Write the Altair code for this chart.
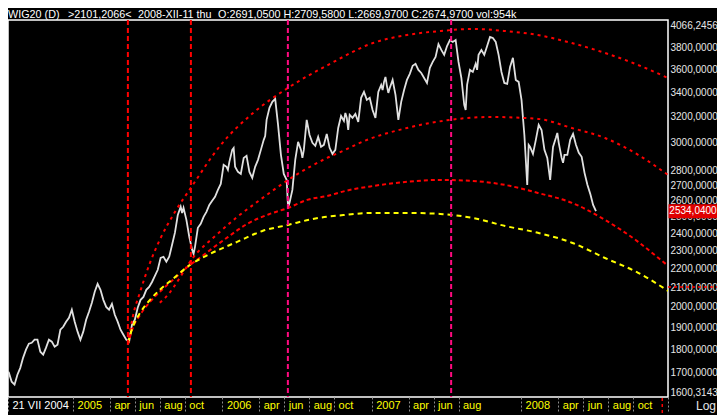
import altair as alt
import pandas as pd

# ---------------- data ----------------
week_start = "2004-07-21"
# weekly readings of the WIG20 line (one value every 7 days from week_start)
close = [
    1704, 1700, 1662, 1650, 1691, 1720, 1764, 1799, 1826, 1830,
    1844, 1844, 1790, 1777, 1808, 1844, 1835, 1812, 1821, 1890,
    1904, 1928, 1947, 1986, 1928, 1881, 1844, 1881, 1937, 1976,
    2020, 2076, 2117, 2086, 2035, 2000, 1986, 2015, 1961, 1928,
    1890, 1867, 1844, 1835, 1913, 1937, 1996, 2035, 2050, 2086,
    2101, 2127, 2160, 2192, 2258, 2264, 2236, 2264, 2332, 2403,
    2511, 2562, 2555, 2480, 2379, 2303, 2320, 2432, 2456, 2499,
    2530, 2574, 2600, 2626, 2671, 2711, 2842, 2828, 2863, 2949,
    2828, 2793, 2779, 2891, 2906, 2793, 2752, 2828, 2877, 2949,
    3023, 3176, 3272, 3321, 3346, 3137, 2913, 2779, 2738, 2587,
    2671, 2877, 3008, 2949, 2949, 3176, 3060, 3001, 2979, 3045,
    2971, 2986, 3068, 2964, 2920, 2949, 3113, 3207, 3168, 3192,
    3216, 3192, 3223, 3160, 3354, 3404, 3337, 3354, 3255, 3192,
    3404, 3463, 3489, 3455, 3437, 3506, 3379, 3176, 3321, 3420,
    3506, 3559, 3631, 3649, 3594, 3567, 3523, 3480, 3612, 3666,
    3712, 3831, 3776, 3730, 3813, 3870, 3851, 3870, 3666, 3523,
    3296, 3463, 3594, 3576, 3649, 3730, 3776, 3730, 3813, 3899,
    3889, 3851, 3730, 3576, 3480, 3472, 3621, 3703, 3506, 3489,
    3337, 3060, 2704, 2971, 2920, 3023, 3137, 3098, 2949, 2891,
    2738, 2971, 3038, 3001, 2891, 2913, 2913, 3023, 3068, 2986,
    2928, 2899, 2786, 2705, 2645, 2574, 2534.04,
]
# extra mid-week readings where the line spikes (position in weeks from week_start)
extra_weeks = [61.5, 65.5, 77.5, 79.5, 90.5, 98.5, 103.5, 118.5, 119.5, 131.5,
               132.5, 133.5, 160.5, 164.5, 182.5, 192.5, 194.5]
extra_vals = [2523, 2280, 2807, 2963, 3052, 2561, 2891, 3231, 3098, 3420,
              3532, 3395, 3255, 3594, 2986, 3075, 2856]

arc_a_dates = ["2005-05-15", "2005-05-27", "2005-06-14", "2005-07-08", "2005-08-01",
               "2005-09-07", "2005-10-19", "2005-12-26", "2006-03-17", "2006-06-10",
               "2006-09-21", "2007-01-04", "2007-03-28", "2007-06-17", "2007-09-05",
               "2007-11-23", "2008-02-11", "2008-05-04", "2008-07-24", "2008-10-13",
               "2008-12-25"]
arc_a_vals = [1821, 1952, 2076, 2230, 2361, 2529, 2697, 2978, 3231, 3437,
              3648, 3841, 3918, 3957, 3977, 3957, 3918, 3841, 3748, 3638, 3523]

arc_b_dates = ["2005-08-01", "2005-08-14", "2005-10-31", "2005-12-09", "2006-02-06",
               "2006-04-03", "2006-06-22", "2006-09-14", "2006-10-28", "2006-12-03",
               "2007-03-28", "2007-07-11", "2007-10-17", "2008-02-11", "2008-05-04",
               "2008-07-24", "2008-10-13", "2008-12-25"]
arc_b_vals = [2020, 2045, 2286, 2372, 2498, 2606, 2758, 2891, 2949, 3001,
              3113, 3176, 3199, 3184, 3113, 3037, 2913, 2772]

arc_c_dates = ["2005-05-15", "2005-05-27", "2005-06-14", "2005-07-08", "2005-08-01",
               "2005-09-02", "2005-10-14", "2005-11-07", "2005-12-09", "2006-01-15",
               "2006-03-02", "2006-04-27", "2006-06-10", "2006-07-27", "2006-09-14",
               "2006-10-28", "2007-01-04", "2007-03-28", "2007-06-17", "2007-09-05",
               "2007-11-23", "2008-02-11", "2008-05-04", "2008-07-24", "2008-10-13",
               "2008-12-01", "2008-12-25"]
arc_c_vals = [1821, 1899, 1961, 2025, 2076, 2138, 2219, 2258, 2314, 2378,
              2455, 2517, 2554, 2606, 2631, 2664, 2697, 2725, 2738, 2731,
              2704, 2651, 2587, 2480, 2349, 2258, 2214]

arc_y_dates = ["2005-05-15", "2005-05-27", "2005-06-14", "2005-07-08", "2005-08-01",
               "2005-09-02", "2005-10-14", "2005-12-02", "2006-02-06", "2006-04-10",
               "2006-06-10", "2006-08-10", "2006-10-28", "2007-01-04", "2007-03-28",
               "2007-06-17", "2007-09-05", "2007-11-23", "2008-02-11", "2008-05-04",
               "2008-07-24", "2008-10-13", "2008-12-25"]
arc_y_vals = [1830, 1903, 1971, 2035, 2086, 2143, 2219, 2280, 2349, 2414,
              2449, 2486, 2511, 2523, 2523, 2517, 2492, 2443, 2402, 2344,
              2257, 2176, 2081]

vline_dates = ["2005-05-15", "2005-10-16", "2006-06-10", "2007-07-14"]
vline_colors = ["#ff0000", "#ff0000", "#ff0a7f", "#ff0a7f"]

y_ticks = [1600.3143, 1700, 1800, 1900, 2000, 2100, 2200, 2300, 2400, 2500,
           2600, 2700, 2800, 3000, 3200, 3400, 3600, 3800, 4066.2456]
x_tick_dates = ["2004-07-26", "2005-01-01", "2005-04-01", "2005-06-01", "2005-08-01",
                "2005-10-01", "2006-01-01", "2006-04-01", "2006-06-01", "2006-08-01",
                "2006-10-01", "2007-01-01", "2007-04-01", "2007-06-01", "2007-08-01",
                "2008-01-01", "2008-04-01", "2008-06-01", "2008-08-01", "2008-10-01",
                "2008-12-25"]
x_domain = ["2004-07-26", "2008-12-25"]
last_close = 2534.04
last_label = "2534,0400"
cursor_value = 2101.2066
cursor_date = "2008-12-11"
header_parts = ["WIG20 (D)", ">2101,2066<", "2008-XII-11 thu",
                "O:2691,0500 H:2709,5800 L:2669,9700 C:2674,9700 vol:954k"]

# ---------------- chart ----------------
W, H = 660, 377
RIGHT = 49
FONT = "Liberation Sans"


def dt(s):
    y, m, d = map(int, s.split("-"))
    return alt.DateTime(year=y, month=m, date=d, utc=True)


weeks = list(range(len(close))) + extra_weeks
vals = close + extra_vals
t0 = pd.Timestamp(week_start)
stamps = [t0 + pd.to_timedelta(w * 7, unit="D") for w in weeks]
price_df = pd.DataFrame({"t": stamps, "price": vals}).sort_values("t")
price_df["date"] = price_df["t"].dt.strftime("%Y-%m-%dT%H:%M:%SZ")
price_df = price_df[["date", "price"]]

xs = alt.Scale(type="utc", domain=[dt(s) for s in x_domain], nice=False)
ys = alt.Scale(type="log", domain=[y_ticks[0], y_ticks[-1]], nice=False)

label_expr = ("utcyear(datum.value) < 2005 ? '21 VII 2004' : "
              "utcmonth(datum.value) == 11 ? '' : "
              "utcmonth(datum.value) == 0 ? utcFormat(datum.value, '%Y') : "
              "lower(utcFormat(datum.value, '%b'))")

xaxis = alt.Axis(
    values=[dt(s) for s in x_tick_dates], labelExpr=label_expr, title=None,
    domain=False, grid=False, tickColor="#8c8c8c", tickDash=[2, 2], tickSize=14,
    tickWidth=1, labelAlign="left", labelOffset=4, labelPadding=-12,
    labelBaseline="top", labelFont=FONT, labelFontSize=11,
    labelColor={"condition": {"test": "utcyear(datum.value) < 2005", "value": "#ffffff"},
                "value": "#ffff00"},
    labelOverlap=False, labelBound=False, labelFlush=False, zindex=0,
)
yaxis = alt.Axis(
    orient="right", values=y_ticks,
    labelExpr="replace(format(datum.value, '.4f'), '.', ',')", title=None,
    domain=False, ticks=False, grid=False, labelPadding=2, labelColor="#e6e6e6",
    labelFont=FONT, labelFontSize=10, labelFlush=True, labelOverlap=False, zindex=0,
)


def X(f="date"):
    return alt.X(f"{f}:T", scale=xs, axis=xaxis)


def Y(f):
    return alt.Y(f"{f}:Q", scale=ys, axis=yaxis)


price = alt.Chart(price_df).mark_line(color="#e0e0e0", strokeWidth=1.8, clip=True).encode(
    x=X(), y=Y("price")
)


def arc(dts, vals, color, dash):
    df = pd.DataFrame({"date": dts, "price": vals})
    return alt.Chart(df).mark_line(
        color=color, strokeDash=dash, strokeWidth=2, interpolate="monotone", clip=True
    ).encode(x=X(), y=Y("price"))


arc_a = arc(arc_a_dates, arc_a_vals, "#ff0000", [3, 4])
arc_b = arc(arc_b_dates, arc_b_vals, "#ff0000", [3, 4])
arc_c = arc(arc_c_dates, arc_c_vals, "#ff0000", [4, 3])
arc_y = arc(arc_y_dates, arc_y_vals, "#ffff00", [5, 4])

vdf = pd.DataFrame({"date": vline_dates, "color": vline_colors})
vlines = alt.Chart(vdf).mark_rule(strokeWidth=2, strokeDash=[5, 3]).encode(
    x=X(), color=alt.Color("color:N", scale=None)
)

cur_h = alt.Chart(pd.DataFrame({"v": [cursor_value]})).mark_rule(
    color="#ff0000", strokeDash=[3, 3], strokeWidth=1.5
).encode(y=Y("v"), x=alt.value(W), x2=alt.value(W + RIGHT))

cur_v = alt.Chart(pd.DataFrame({"date": [cursor_date]})).mark_rule(
    color="#ff0000", strokeDash=[3, 3], strokeWidth=1.5
).encode(x=X(), y=alt.value(H + 1), y2=alt.value(H + 18))

box_df = pd.DataFrame({"v": [last_close], "t": [last_label]})
box = alt.Chart(box_df).mark_point(
    shape="M-1.75,-0.5L1.75,-0.5L1.75,0.5L-1.75,0.5Z", size=784, filled=True,
    color="#e00000", opacity=1, strokeWidth=0,
).encode(x=alt.value(W + 25), y=Y("v"))
box_txt = alt.Chart(box_df).mark_text(
    color="white", font=FONT, fontSize=10, align="center", baseline="middle"
).encode(x=alt.value(W + 25), y=Y("v"), text="t:N")

head_df = pd.DataFrame({"t": header_parts, "px": [0, 60, 130, 210]})
head = alt.Chart(head_df).mark_text(
    align="left", baseline="alphabetic", color="white", font=FONT, fontSize=10.8
).encode(x=alt.X("px:Q", scale=None), y=alt.value(-2), text="t:N")

log_txt = alt.Chart(pd.DataFrame({"t": ["Log"]})).mark_text(
    align="right", baseline="middle", color="#e6e6e6", font=FONT, fontSize=12
).encode(x=alt.value(W + RIGHT - 1), y=alt.value(H + 9), text="t:N")

chart = alt.layer(
    price, arc_a, arc_b, arc_c, arc_y, vlines, cur_h, cur_v, box, box_txt, head, log_txt
).properties(
    width=W, height=H,
    autosize=alt.AutoSizeParams(type="none"),
    padding={"left": 0, "top": 12, "right": RIGHT, "bottom": 18},
    background="black",
).configure_view(stroke="white", strokeWidth=1.5)

chart.save("out.html", embed_options={"renderer": "svg", "actions": False})
